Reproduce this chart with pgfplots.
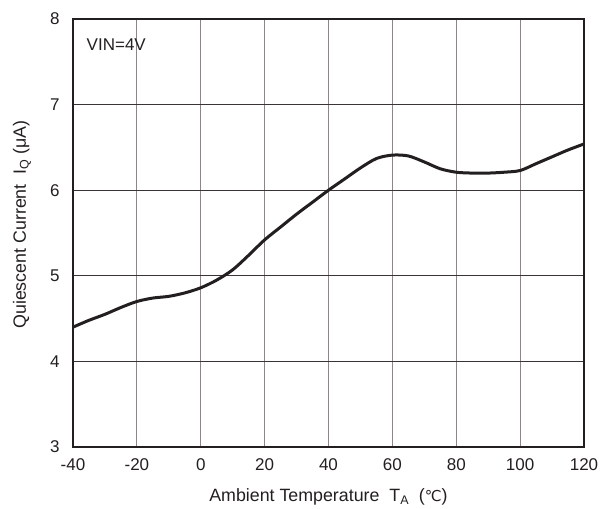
\documentclass[border=0pt]{standalone}
\usepackage{fontspec}
\setmainfont{Liberation Sans}
\newfontfamily\symfont{DejaVu Sans}
\usepackage{pgfplots}
\pgfplotsset{compat=1.18}

\definecolor{curve}{HTML}{231F20}
\definecolor{vgrid}{HTML}{8C8786}
\definecolor{hgrid}{HTML}{3A3435}

\begin{document}
\begin{tikzpicture}
\path[use as bounding box] (-73bp,-62bp) rectangle (527bp,447bp);
\begin{axis}[
  at={(0,0)}, anchor=south west,
  scale only axis,
  width=511bp, height=428bp,
  xmin=-40, xmax=120, ymin=3, ymax=8,
  xtick={-40,-20,...,120},
  ytick={3,4,...,8},
  major tick length=0pt,
  xmajorgrids, ymajorgrids,
  x grid style={color=vgrid, line width=1.1bp},
  y grid style={color=hgrid, line width=0.9bp},
  axis line style={draw=none},
  /pgf/number format/assume math mode=true,
  tick label style={font=\fontsize{17bp}{20bp}\selectfont, color=curve},
  xticklabel style={yshift=-8bp},
  yticklabel style={xshift=-10bp},
  label style={font=\fontsize{17.8bp}{21bp}\selectfont, color=curve},
  xlabel={Ambient Temperature\ \ T\textsubscript{A}\ \ ({\symfont\fontsize{15bp}{18bp}\selectfont ℃})},
  ylabel={Quiescent Current\ \ I\textsubscript{Q} (μA)},
  xlabel style={at={(axis description cs:0.5,-0.117)}, anchor=center},
  ylabel style={at={(axis description cs:-0.0998,0.52)}, anchor=center},
  clip=false,
]
\addplot[color=curve, line width=3bp, smooth, tension=0.5] coordinates {
  (-40,4.40) (-35,4.48) (-30,4.55) (-25,4.63) (-20,4.70) (-15,4.74)
  (-10,4.76) (-5,4.80) (0,4.86) (5,4.95) (10,5.07) (15,5.24)
  (20,5.42) (25,5.57) (30,5.72) (35,5.86) (40,6.00) (45,6.13)
  (50,6.26) (55,6.37) (60,6.41) (65,6.40) (70,6.33) (75,6.25)
  (80,6.21) (85,6.20) (90,6.20) (95,6.21) (100,6.23) (105,6.31)
  (110,6.39) (115,6.47) (120,6.54)
};
% heavy frame round the plot area
\draw[color=curve, line width=2.8bp, line join=miter]
  (rel axis cs:0,0) rectangle (rel axis cs:1,1);
\node[anchor=west, font=\fontsize{17bp}{20bp}\selectfont, color=curve]
  at (axis description cs:0.02,0.94) {VIN=4V};
\end{axis}
\end{tikzpicture}
\end{document}
